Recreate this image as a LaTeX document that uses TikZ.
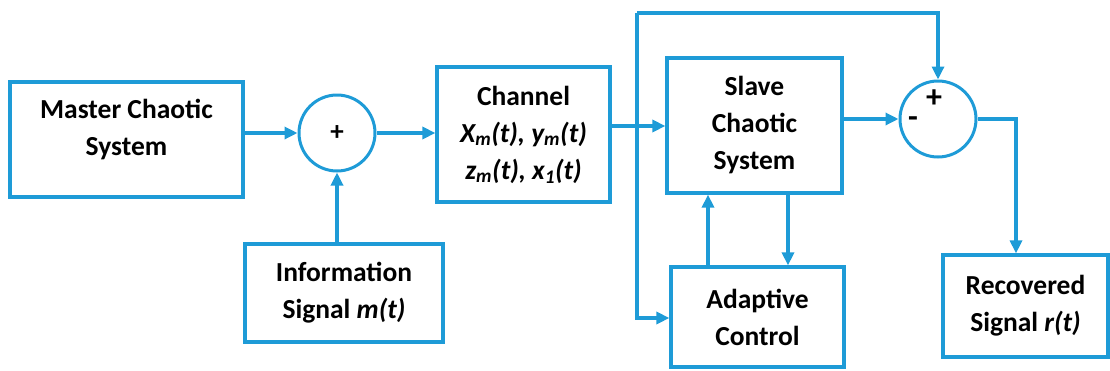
\documentclass[tikz,border=0pt]{standalone}
\usepackage{fontspec}
\setmainfont{Carlito}
\usetikzlibrary{arrows.meta}
\definecolor{wire}{RGB}{30,155,215}
\tikzset{
  blk/.style={draw=wire, line width=3.2pt, rectangle, inner sep=0pt, align=center,
              font=\fontsize{27.5}{37}\selectfont\bfseries},
  sumnode/.style={draw=wire, line width=3pt, circle, inner sep=0pt, minimum size=76pt,
              font=\fontsize{27}{30}\selectfont\bfseries},
  sgn/.style={inner sep=0pt, font=\fontsize{32}{32}\selectfont\bfseries},
  txt/.style={inner sep=0pt, align=center, font=\fontsize{27.5}{37}\selectfont\bfseries},
  wireline/.style={draw=wire, line width=3.2pt},
  arr/.style={wireline, -{Triangle[length=13pt,width=12pt]}}
}
\begin{document}
\begin{tikzpicture}[x=1pt,y=-1pt]
  \useasboundingbox (0,0) rectangle (1110,370);

  % blocks
  \node[blk, minimum width=233pt, minimum height=115pt] (master) at (126.5,139.5) {};
  \node[txt] at (126.5,129.5) {Master Chaotic\\System};
  \node[sumnode] (sum1) at (337,133) {+};
  \node[blk, minimum width=198pt, minimum height=98pt] (info) at (344,293)
    {Information\\Signal \textit{m(t)}};
  \node[blk, minimum width=173pt, minimum height=135pt] (channel) at (523.5,134.5)
    {Channel\\\textit{X\textsubscript{m}(t), y\textsubscript{m}(t)}\\\textit{z\textsubscript{m}(t), x\textsubscript{1}(t)}};
  \node[blk, minimum width=175pt, minimum height=135pt] (slave) at (754.5,125.5)
    {Slave\\Chaotic\\System};
  \node[blk, minimum width=173pt, minimum height=100pt] (adapt) at (757.5,317)
    {Adaptive\\Control};
  \node[sumnode] (sum2) at (938,119) {};
  \node[sgn] (plus) at (934,99) {+};
  \node[sgn] (minus) at (913,122) {-};
  \node[blk, minimum width=165pt, minimum height=102pt] (recov) at (1025.5,306)
    {Recovered\\Signal \textit{r(t)}};

  % junction and corner points
  \coordinate (j) at (637,126);
  \coordinate (ttop) at (637,13);
  \coordinate (jdown) at (637,318);
  \coordinate (rc) at (1016,119);

  % connectors
  \draw[arr] (master.east |- sum1.west) -- (sum1.west);
  \draw[arr] (info.north -| sum1.south) -- (sum1.south);
  \draw[arr] (sum1.east) -- (sum1.east -| channel.west);
  \draw[arr] (channel.east |- j) -- (slave.west |- j);
  \draw[wireline] (j) -- (ttop);
  \draw[arr] (ttop) -| (sum2.north);
  \draw[arr] (j) -- (jdown) -- (adapt.west |- jdown);
  \draw[arr] (slave.east |- sum2.west) -- (sum2.west);
  \draw[arr] (sum2.east) -- (rc) -- (rc |- recov.north);
  \draw[arr] (adapt.north -| 708,0) -- (slave.south -| 708,0);
  \draw[arr] (slave.south -| 788,0) -- (adapt.north -| 788,0);
\end{tikzpicture}
\end{document}
